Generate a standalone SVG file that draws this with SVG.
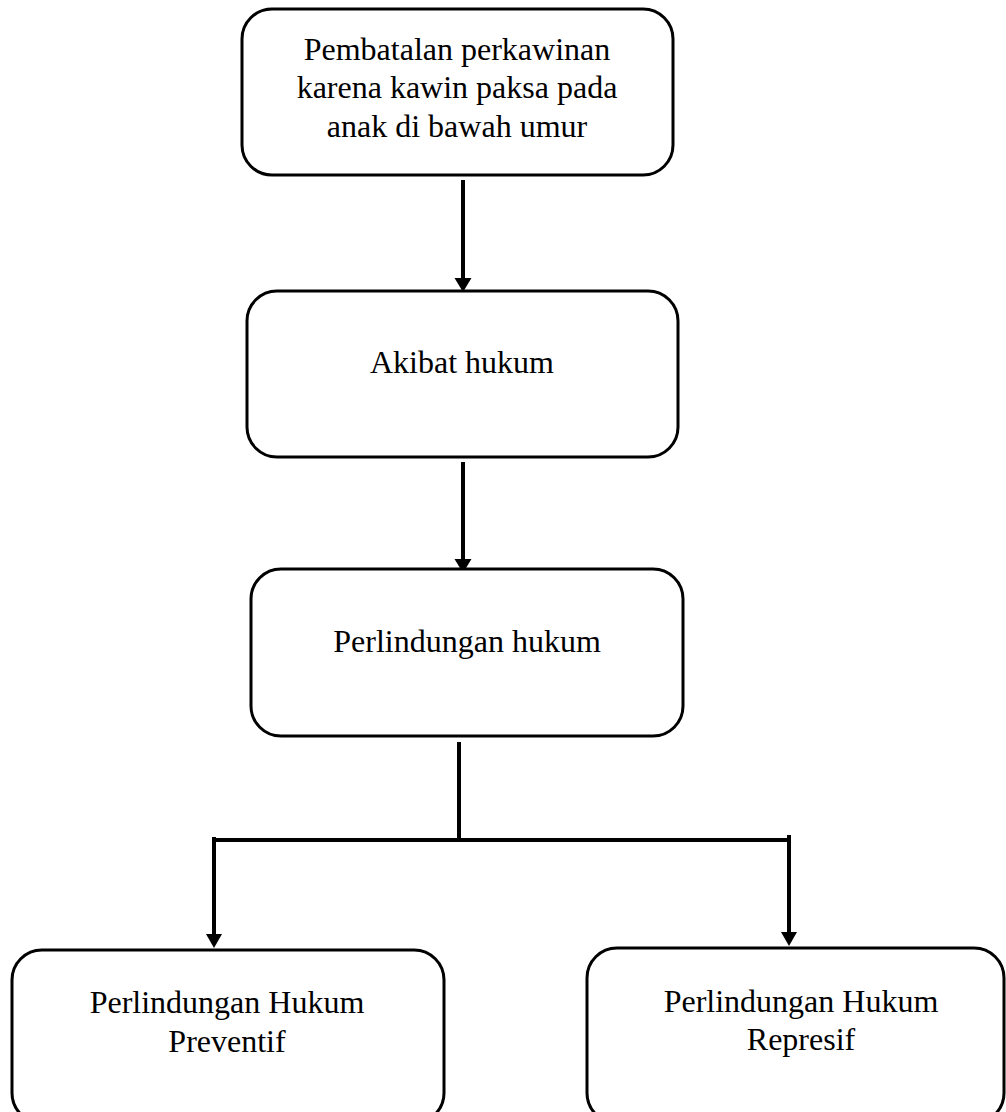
<svg xmlns="http://www.w3.org/2000/svg" width="1006" height="1112" viewBox="0 0 1006 1112">
<style>
.box{fill:#fff;stroke:#000;stroke-width:3}
.t{font-family:"Liberation Serif","Times New Roman",serif;font-size:32px;fill:#000;text-anchor:middle}
.c{stroke:#000;stroke-width:4;fill:none}
.ah{fill:#000}
</style>
<rect width="1006" height="1112" fill="#fff"/>
<g id="connectors">
<line class="c" x1="463" y1="180" x2="463" y2="280"/>
<polygon class="ah" points="454.5,278 471.5,278 463,292"/>
<line class="c" x1="463" y1="462" x2="463" y2="561"/>
<polygon class="ah" points="454.5,559 471.5,559 463,573"/>
<line class="c" x1="459" y1="742" x2="459" y2="840"/>
<line class="c" x1="214" y1="840" x2="789" y2="840"/>
<line class="c" x1="214" y1="837" x2="214" y2="936"/>
<polygon class="ah" points="206,934 222,934 214,948"/>
<line class="c" x1="789" y1="835" x2="789" y2="934"/>
<polygon class="ah" points="781,932 797,932 789,946"/>
</g>
<g id="node1">
<rect class="box" x="242" y="9" width="431" height="166" rx="30"/>
<text class="t" x="457" y="60">Pembatalan perkawinan</text>
<text class="t" x="457" y="98">karena kawin paksa pada</text>
<text class="t" x="457" y="137">anak di bawah umur</text>
</g>
<g id="node2">
<rect class="box" x="247" y="291" width="431" height="166" rx="30"/>
<text class="t" x="462" y="373">Akibat hukum</text>
</g>
<g id="node3">
<rect class="box" x="251" y="569" width="432" height="167" rx="30"/>
<text class="t" x="467" y="652">Perlindungan hukum</text>
</g>
<g id="node4">
<rect class="box" x="12" y="950" width="432" height="173" rx="30"/>
<text class="t" x="227" y="1013">Perlindungan Hukum</text>
<text class="t" x="227" y="1052">Preventif</text>
</g>
<g id="node5">
<rect class="box" x="587" y="948" width="417" height="175" rx="30"/>
<text class="t" x="801" y="1012">Perlindungan Hukum</text>
<text class="t" x="801" y="1050">Represif</text>
</g>
</svg>
